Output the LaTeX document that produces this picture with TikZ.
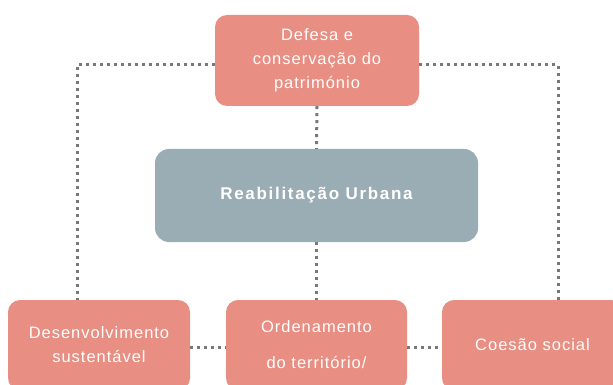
\documentclass[tikz,border=0pt]{standalone}
\usepackage{fontspec}
\setmainfont{Liberation Sans}
\newfontfamily\boxfont[LetterSpace=6]{Liberation Sans}
\newfontfamily\urbfont[LetterSpace=10]{Liberation Sans}
\definecolor{salmao}{RGB}{232,142,130}
\definecolor{cinza}{RGB}{155,173,180}
\definecolor{ponto}{RGB}{120,120,120}

\begin{document}
\begin{tikzpicture}[x=1pt,y=-1pt,
  caixa/.style={rectangle,rounded corners=12pt,fill=salmao,text=white,align=center,
    inner sep=0pt,font=\boxfont\fontsize{16.5}{24}\selectfont},
  centro/.style={rectangle,rounded corners=14pt,fill=cinza,text=white,
    inner sep=0pt,font=\urbfont\bfseries\fontsize{17}{20}\selectfont},
  pontos/.style={draw=ponto,line width=3pt,dash pattern=on 3pt off 4pt}]
\useasboundingbox (0,0) rectangle (613,385);
\clip (0,0) rectangle (613,385);

\node[caixa,minimum width=204pt,minimum height=91pt] (defesa) at (317,60.5)
  {Defesa e\\conservação do\\património};
\node[centro,minimum width=323pt,minimum height=93pt] (reab) at (316.5,195.5)
  {Reabilitação Urbana};

\node[caixa,minimum width=182pt,minimum height=90pt] (desenv) at (99,345)
  {Desenvolvimento\\sustentável};
\node[caixa,minimum width=181pt,minimum height=90pt] (orden) at (316.5,345)
  {Ordenamento\\[12pt]do território/};
\node[caixa,minimum width=181pt,minimum height=90pt] (coesao) at (532.5,345)
  {Coesão social};

\draw[pontos] ([yshift=-4.5pt]defesa.west) -| ([xshift=-22pt]desenv.north);
\draw[pontos] ([yshift=-4.5pt]defesa.east) -| ([xshift=25.5pt]coesao.north);
\draw[pontos] (defesa.south) -- (reab.north);
\draw[pontos] (reab.south) -- (orden.north);
\draw[pontos] ([yshift=-2pt]desenv.east) -- ([yshift=-2pt]orden.west);
\draw[pontos] ([yshift=-2pt]orden.east) -- ([yshift=-2pt]coesao.west);

\end{tikzpicture}
\end{document}
